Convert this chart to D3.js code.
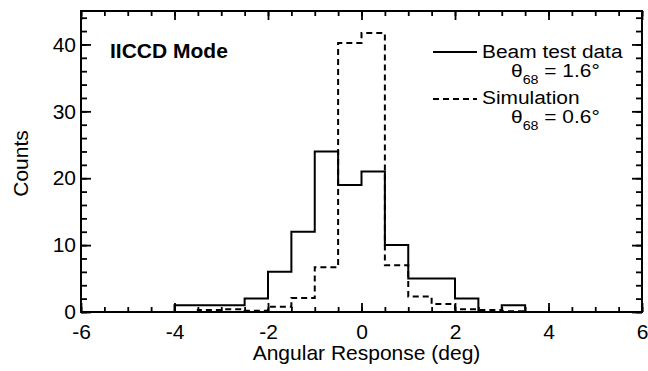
<!DOCTYPE html>
<html>
<head>
<meta charset="utf-8">
<script src="https://cdn.jsdelivr.net/npm/d3@7"></script>
<style>
  html, body { margin: 0; padding: 0; background: #fff; }
  svg text { font-family: "Liberation Sans", Arial, Helvetica, sans-serif; fill: #000; }
</style>
</head>
<body>
<svg id="chart" width="648" height="371"></svg>
<script>
// ---- data ----
const binLeft   = [-4, -3.5, -3, -2.5, -2, -1.5, -1, -0.5, 0, 0.5, 1, 1.5, 2, 2.5, 3];
const binWidth  = 0.5;
const beamCounts = [1, 1, 1, 2, 6, 12, 24, 19, 21, 10, 5, 5, 2, 0, 1];
const simCounts  = [0, 0.3, 0.4, 0.2, 0.8, 2.1, 6.7, 40.2, 41.7, 7.0, 2.3, 1.2, 0.4, 0.3, 0.1];
const xMajorTicks = [-6, -4, -2, 0, 2, 4, 6];
const yMajorTicks = [0, 10, 20, 30, 40];
const xDomain = [-6, 6];
const yDomain = [0, 45];

// ---- layout ----
const L = 81, R = 642, T = 11, B = 312;
const svg = d3.select("#chart");
const x = d3.scaleLinear().domain(xDomain).range([L, R]);
const y = d3.scaleLinear().domain(yDomain).range([B, T]);

const xMinor = d3.range(-6, 6.001, 0.5);
const yMinor = d3.range(0, 45.001, 2);
const fmt = d => String(d);

function styleAxis(g) {
  g.select(".domain").remove();
  g.selectAll(".tick line").attr("stroke", "#000").attr("stroke-width", 1.8);
  g.selectAll(".tick text").style("font-size", "21px").attr("fill", "#000");
}

// bottom
svg.append("g").attr("transform", `translate(0,${B})`)
  .call(d3.axisBottom(x).tickValues(xMinor).tickSize(-5).tickFormat(""))
  .call(styleAxis);
svg.append("g").attr("transform", `translate(0,${B})`)
  .call(d3.axisBottom(x).tickValues(xMajorTicks).tickSize(-9).tickPadding(12).tickFormat(fmt))
  .call(styleAxis);
// top
svg.append("g").attr("transform", `translate(0,${T})`)
  .call(d3.axisTop(x).tickValues(xMinor).tickSize(-5).tickFormat(""))
  .call(styleAxis);
svg.append("g").attr("transform", `translate(0,${T})`)
  .call(d3.axisTop(x).tickValues(xMajorTicks).tickSize(-9).tickFormat(""))
  .call(styleAxis);
// left
svg.append("g").attr("transform", `translate(${L},0)`)
  .call(d3.axisLeft(y).tickValues(yMinor).tickSize(-6).tickFormat(""))
  .call(styleAxis);
svg.append("g").attr("transform", `translate(${L},0)`)
  .call(d3.axisLeft(y).tickValues(yMajorTicks).tickSize(-10).tickPadding(5).tickFormat(fmt))
  .call(styleAxis);
// right
svg.append("g").attr("transform", `translate(${R},0)`)
  .call(d3.axisRight(y).tickValues(yMinor).tickSize(-6).tickFormat(""))
  .call(styleAxis);
svg.append("g").attr("transform", `translate(${R},0)`)
  .call(d3.axisRight(y).tickValues(yMajorTicks).tickSize(-10).tickFormat(""))
  .call(styleAxis);

// frame
svg.append("rect").attr("x", L).attr("y", T).attr("width", R - L).attr("height", B - T)
  .attr("fill", "none").attr("stroke", "#000").attr("stroke-width", 2);

// histogram step outlines
function stepPoints(counts) {
  let first = counts.findIndex(v => v > 0);
  const pts = [[binLeft[first], 0]];
  for (let i = first; i < counts.length; i++) {
    pts.push([binLeft[i], counts[i]]);
    pts.push([binLeft[i] + binWidth, counts[i]]);
  }
  pts.push([binLeft[counts.length - 1] + binWidth, 0]);
  return pts;
}
const line = d3.line().x(d => x(d[0])).y(d => y(d[1]));

svg.append("path").attr("d", line(stepPoints(simCounts)))
  .attr("fill", "none").attr("stroke", "#000").attr("stroke-width", 2)
  .attr("stroke-dasharray", "6,4");
svg.append("path").attr("d", line(stepPoints(beamCounts)))
  .attr("fill", "none").attr("stroke", "#000").attr("stroke-width", 2);

// labels
svg.append("text").attr("x", (L + R) / 2 + 5).attr("y", 360).attr("text-anchor", "middle")
  .style("font-size", "21px").text("Angular Response (deg)");
svg.append("text").attr("transform", `translate(28,${(T + B) / 2 + 2}) rotate(-90)`)
  .attr("text-anchor", "middle").style("font-size", "21px").text("Counts");

svg.append("text").attr("x", 110).attr("y", 58).style("font-size", "21px")
  .style("font-weight", "bold").text("IICCD Mode");

// legend
const leg = [
  { name: "Beam test data", theta: "1.6°", dash: null, ly: 52, ty: 58, thy: 77 },
  { name: "Simulation", theta: "0.6°", dash: "6,4", ly: 99, ty: 104, thy: 123 }
];
leg.forEach(d => {
  svg.append("line").attr("x1", 433).attr("x2", 477).attr("y1", d.ly).attr("y2", d.ly)
    .attr("stroke", "#000").attr("stroke-width", 2).attr("stroke-dasharray", d.dash);
  svg.append("g").attr("transform", `translate(482,${d.ty}) scale(1.1,1)`)
    .append("text").style("font-size", "19px").text(d.name);
  const t = svg.append("g").attr("transform", `translate(511,${d.thy}) scale(1.1,1)`)
    .append("text").style("font-size", "19px");
  t.append("tspan").text("θ");
  t.append("tspan").attr("dy", 7).style("font-size", "13px").text("68");
  t.append("tspan").attr("dy", -7).text(" = " + d.theta);
});
</script>
</body>
</html>
